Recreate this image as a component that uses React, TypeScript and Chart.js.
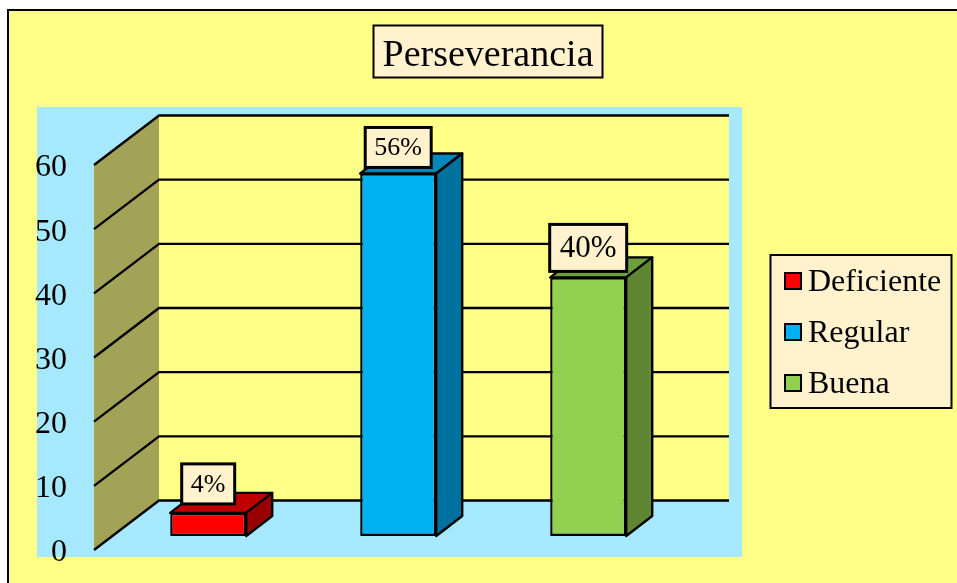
import React, { useEffect, useRef } from "react";
import { Chart, registerables } from "chart.js";

Chart.register(...registerables);

const titleText = "Perseverancia";
const categories = ["Deficiente", "Regular", "Buena"];
const values = [3.6, 56.5, 40.3];
const valueLabels = ["4%", "56%", "40%"];
const frontColors = ["#FF0000", "#00B0F0", "#92D050"];
const topColors = ["#C00000", "#0088BB", "#6F9F3D"];
const sideColors = ["#990000", "#00719F", "#5F8733"];

const FONT = '"Liberation Serif", serif';
const BLACK = "#000000";
const YELLOW = "#FFFF88";
const SKY = "#A6E9FF";
const OLIVE = "#A3A358";
const CREAM = "#FFF2CC";

// Depth of the 3D box and bar placement inside it
const WALL_DX = 65;
const WALL_DY = -49.5;
const BAR_OFFSET_X = 19.2;
const BAR_OFFSET_Y = -14;
const BAR_DX = 26;
const BAR_DY = -20;
const LINE = 2.4;

const labelStyles = [
  { w: 53, h: 40, size: 26, gap: 9 },
  { w: 66, h: 40, size: 26, gap: 6 },
  { w: 77, h: 47, size: 31, gap: 6 },
];

function poly(ctx: CanvasRenderingContext2D, pts: number[][], fill: string, stroke = true) {
  ctx.beginPath();
  pts.forEach(([x, y], i) => (i ? ctx.lineTo(x, y) : ctx.moveTo(x, y)));
  ctx.closePath();
  ctx.fillStyle = fill;
  ctx.fill();
  if (stroke) {
    ctx.lineWidth = LINE;
    ctx.strokeStyle = BLACK;
    ctx.lineJoin = "round";
    ctx.stroke();
  }
}

function textBox(
  ctx: CanvasRenderingContext2D,
  x: number,
  y: number,
  w: number,
  h: number,
  lineWidth: number
) {
  ctx.fillStyle = CREAM;
  ctx.fillRect(x, y, w, h);
  ctx.strokeStyle = BLACK;
  ctx.lineWidth = lineWidth;
  ctx.strokeRect(x, y, w, h);
}

const scene3d = {
  id: "scene3d",
  beforeDraw(chart: any) {
    const { ctx, width, height } = chart;
    ctx.save();
    ctx.fillStyle = "#FFFFFF";
    ctx.fillRect(0, 0, width, height);
    ctx.fillStyle = YELLOW;
    ctx.fillRect(7, 10, width, height);
    ctx.strokeStyle = BLACK;
    ctx.lineWidth = 2;
    ctx.beginPath();
    ctx.moveTo(8, height + 2);
    ctx.lineTo(8, 10);
    ctx.lineTo(width + 2, 10);
    ctx.stroke();
    ctx.fillStyle = SKY;
    ctx.fillRect(37, 107, 705, 450);
    ctx.restore();
  },
  beforeDatasetsDraw(chart: any) {
    const { ctx, chartArea, scales } = chart;
    const { left, right, top, bottom } = chartArea;
    ctx.save();
    ctx.fillStyle = YELLOW;
    ctx.fillRect(left + WALL_DX, top + WALL_DY, right - left, bottom - top);
    poly(
      ctx,
      [
        [left, top],
        [left + WALL_DX, top + WALL_DY],
        [left + WALL_DX, bottom + WALL_DY],
        [left, bottom],
      ],
      OLIVE,
      false
    );
    ctx.strokeStyle = BLACK;
    ctx.lineWidth = LINE;
    scales.y.ticks.forEach((t: any) => {
      const py = scales.y.getPixelForValue(t.value);
      ctx.beginPath();
      ctx.moveTo(left, py);
      ctx.lineTo(left + WALL_DX, py + WALL_DY);
      ctx.lineTo(right + WALL_DX, py + WALL_DY);
      ctx.stroke();
    });
    ctx.restore();
  },
  beforeDatasetDraw(chart: any) {
    const { ctx } = chart;
    ctx.save();
    ctx.translate(BAR_OFFSET_X, BAR_OFFSET_Y);
    chart.getDatasetMeta(0).data.forEach((bar: any, i: number) => {
      const l = bar.x - bar.width / 2;
      const r = bar.x + bar.width / 2;
      const t = bar.y;
      const b = bar.base;
      poly(ctx, [[l, t], [l + BAR_DX, t + BAR_DY], [r + BAR_DX, t + BAR_DY], [r, t]], topColors[i]);
      poly(ctx, [[r, t], [r + BAR_DX, t + BAR_DY], [r + BAR_DX, b + BAR_DY], [r, b]], sideColors[i]);
    });
  },
  afterDatasetDraw(chart: any) {
    chart.ctx.restore();
  },
  afterDatasetsDraw(chart: any) {
    const { ctx } = chart;
    ctx.save();
    ctx.textAlign = "center";
    ctx.textBaseline = "middle";
    chart.getDatasetMeta(0).data.forEach((bar: any, i: number) => {
      const s = labelStyles[i];
      const cx = bar.x + BAR_OFFSET_X;
      const bottom = bar.y + BAR_OFFSET_Y - s.gap;
      textBox(ctx, cx - s.w / 2, bottom - s.h, s.w, s.h, 3);
      ctx.fillStyle = BLACK;
      ctx.font = `${s.size}px ${FONT}`;
      ctx.fillText(valueLabels[i], cx, bottom - s.h / 2 + 1);
    });

    // Title
    textBox(ctx, 373.5, 25.5, 229, 52, 2);
    ctx.fillStyle = BLACK;
    ctx.font = `38px ${FONT}`;
    ctx.textBaseline = "alphabetic";
    ctx.fillText(titleText, 488, 66);

    // Legend
    textBox(ctx, 770.5, 255, 181, 153, 2);
    ctx.textAlign = "left";
    ctx.font = `32px ${FONT}`;
    categories.forEach((name, i) => {
      const y = 273 + i * 51;
      ctx.fillStyle = frontColors[i];
      ctx.fillRect(785, y, 16, 16);
      ctx.strokeStyle = BLACK;
      ctx.lineWidth = 2;
      ctx.strokeRect(785, y, 16, 16);
      ctx.fillStyle = BLACK;
      ctx.fillText(name, 808, 291 + i * 51);
    });
    ctx.restore();
  },
};

export default function App() {
  const ref = useRef<HTMLCanvasElement | null>(null);

  useEffect(() => {
    const chart = new Chart(ref.current as HTMLCanvasElement, {
      type: "bar",
      data: {
        labels: categories,
        datasets: [
          {
            label: titleText,
            data: values,
            backgroundColor: frontColors,
            borderColor: BLACK,
            borderWidth: 2.4,
            borderSkipped: false,
            barPercentage: 0.4,
            categoryPercentage: 1,
            clip: false,
          } as any,
        ],
      },
      options: {
        responsive: false,
        animation: false,
        layout: { padding: { left: 0, top: 165, right: 293, bottom: 33 } },
        plugins: { legend: { display: false }, title: { display: false }, tooltip: { enabled: false } },
        scales: {
          x: { display: false },
          y: {
            min: 0,
            max: 60,
            afterFit(scale: any) {
              scale.width = 94;
              scale.paddingTop = 0;
              scale.paddingBottom = 0;
            },
            border: { display: false },
            grid: { display: false },
            ticks: {
              stepSize: 10,
              padding: 19,
              labelOffset: 3,
              color: BLACK,
              font: { family: FONT, size: 32 },
            },
          },
        },
      },
      plugins: [scene3d],
    });
    return () => chart.destroy();
  }, []);

  return (
    <canvas
      ref={ref}
      width={957}
      height={583}
      style={{ position: "fixed", left: 0, top: 0, display: "block" }}
    />
  );
}
